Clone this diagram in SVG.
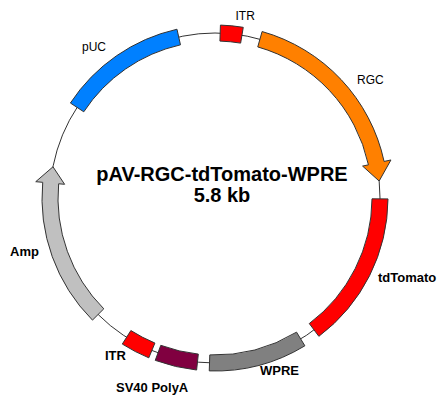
<svg xmlns="http://www.w3.org/2000/svg" width="447" height="407" viewBox="0 0 447 407">
<style>
.feat{stroke:#333;stroke-width:1;stroke-linejoin:miter}
.lbl{font-family:"Liberation Sans",Arial,sans-serif;font-size:12px;fill:#000}
.lblb{font-family:"Liberation Sans",Arial,sans-serif;font-size:13px;font-weight:bold;fill:#000}
.title{font-family:"Liberation Sans",Arial,sans-serif;font-size:20px;font-weight:bold;fill:#000;text-anchor:middle}
</style>
<rect width="447" height="407" fill="#fff"/>
<g id="connectors">
<circle cx="215" cy="198" r="165" fill="none" stroke="#333" stroke-width="1"/>
</g>
<g id="itr-top">
<path class="feat" fill="#ff0000" d="M220.43 25.08 A173 173 0 0 1 243.26 27.32 L240.64 43.11 A157 157 0 0 0 219.93 41.08 Z"/>
<text class="lbl" x="235.5" y="20">ITR</text>
</g>
<g id="rgc">
<path class="feat" fill="#ff8000" d="M262.10 31.54 A173 173 0 0 1 384.09 161.44 L390.94 159.96 L379.13 181.04 L362.59 166.09 L368.45 164.82 A157 157 0 0 0 257.75 46.93 Z"/>
<text class="lbl" x="357" y="84">RGC</text>
</g>
<g id="tdtomato">
<path class="feat" fill="#ff0000" d="M388.0 198.91 A173 173 0 0 1 318.87 336.34 L309.27 323.55 A157 157 0 0 0 372.0 198.82 Z"/>
<text class="lblb" x="378" y="282">tdTomato</text>
</g>
<g id="wpre">
<path class="feat" fill="#808080" d="M304.88 345.82 A173 173 0 0 1 209.26 370.90 L209.79 354.91 A157 157 0 0 0 296.56 332.15 Z"/>
<text class="lblb" x="260" y="374.5">WPRE</text>
</g>
<g id="sv40-polya">
<path class="feat" fill="#800040" d="M196.62 370.02 A173 173 0 0 1 155.26 360.36 L160.79 345.34 A157 157 0 0 0 198.32 354.11 Z"/>
<text class="lblb" x="116" y="392.3">SV40 PolyA</text>
</g>
<g id="itr-bottom">
<path class="feat" fill="#ff0000" d="M148.80 357.83 A173 173 0 0 1 122.30 344.07 L130.87 330.56 A157 157 0 0 0 154.92 343.05 Z"/>
<text class="lblb" x="105" y="360">ITR</text>
</g>
<g id="amp">
<path class="feat" fill="#c0c0c0" d="M103.79 308.82 A157 157 0 0 1 58.65 183.77 L64.62 184.31 L52.98 166.80 L35.74 181.69 L42.71 182.32 A173 173 0 0 0 92.46 320.12 Z"/>
<text class="lblb" x="10" y="256">Amp</text>
</g>
<g id="puc">
<path class="feat" fill="#0080ff" d="M70.40 103.02 A173 173 0 0 1 176.97 29.23 L180.48 44.84 A157 157 0 0 0 83.78 111.80 Z"/>
<text class="lbl" x="82" y="50.6">pUC</text>
</g>
<g id="title">
<text class="title" x="222" y="181">pAV-RGC-tdTomato-WPRE</text>
<text class="title" x="222" y="202">5.8 kb</text>
</g>
</svg>
